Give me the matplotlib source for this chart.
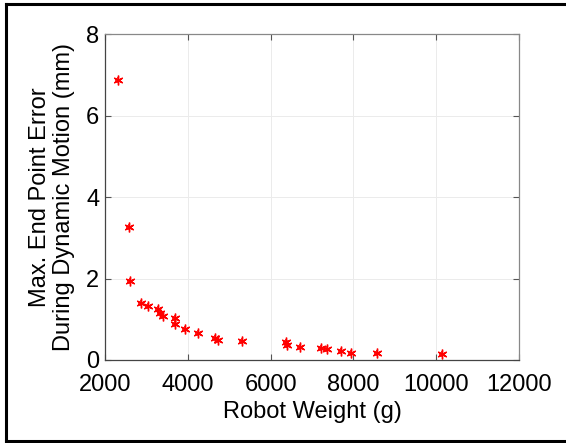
import matplotlib
matplotlib.use("Agg")
import matplotlib.pyplot as plt
from matplotlib.lines import Line2D

plt.rcParams['font.family'] = ['Liberation Sans', 'DejaVu Sans']

# robot weight (g) vs max end point error (mm)
weight = [2310, 2575, 2610, 2875, 3050, 3290, 3340, 3395, 3685, 3685, 3930, 4240,
          4650, 4725, 5315, 6360, 6390, 6715, 7220, 7355, 7690, 7930, 8580, 10130]
error = [6.87, 3.26, 1.95, 1.39, 1.33, 1.25, 1.16, 1.08, 1.03, 0.89, 0.77, 0.66,
         0.53, 0.49, 0.46, 0.43, 0.36, 0.33, 0.29, 0.27, 0.21, 0.18, 0.16, 0.14]

x_ticks = [2000, 4000, 6000, 8000, 10000, 12000]
y_ticks = [0, 2, 4, 6, 8]

fig = plt.figure(figsize=(5.66, 4.43), dpi=100)
ax = fig.add_axes([0.1855, 0.1874, 0.7315, 0.7352])

# asterisk markers like matlab '*'
ax.plot(weight, error, linestyle='none', marker=(6, 2, 0), color='red',
        markersize=7, markeredgewidth=1.0)
ax.plot(weight, error, linestyle='none', marker='+', color='red',
        markersize=5, markeredgewidth=1.2)

ax.set_xlim(2000, 12000)
ax.set_ylim(0, 8)
ax.set_xticks(x_ticks)
ax.set_yticks(y_ticks)
ax.tick_params(direction='in', length=4, width=0.8, colors='#555555',
               labelcolor='black', labelsize=17, top=True, right=True, pad=4)
ax.tick_params(axis='x', pad=10)
ax.grid(True, color='#ebebeb', linewidth=0.7)
ax.set_axisbelow(True)
for side in ['left', 'bottom']:
    ax.spines[side].set_color('#444444')
    ax.spines[side].set_linewidth(0.9)
for side in ['top', 'right']:
    ax.spines[side].set_color('#888888')
    ax.spines[side].set_linewidth(0.9)

ax.set_xlabel('Robot Weight (g)', fontsize=17, labelpad=4)
ax.set_ylabel('Max. End Point Error\nDuring Dynamic Motion (mm)', fontsize=17,
              labelpad=8, linespacing=1.1)

# outer frame
frame_kw = dict(color='black', linewidth=2.2, transform=fig.transFigure)
fig.add_artist(Line2D([0.0105, 0.0105], [0.004, 0.991], **frame_kw))
fig.add_artist(Line2D([0.0105, 1.0], [0.991, 0.991], **frame_kw))
fig.add_artist(Line2D([0.0105, 1.0], [0.005, 0.005], **frame_kw))

fig.savefig('out.png', dpi=100)
